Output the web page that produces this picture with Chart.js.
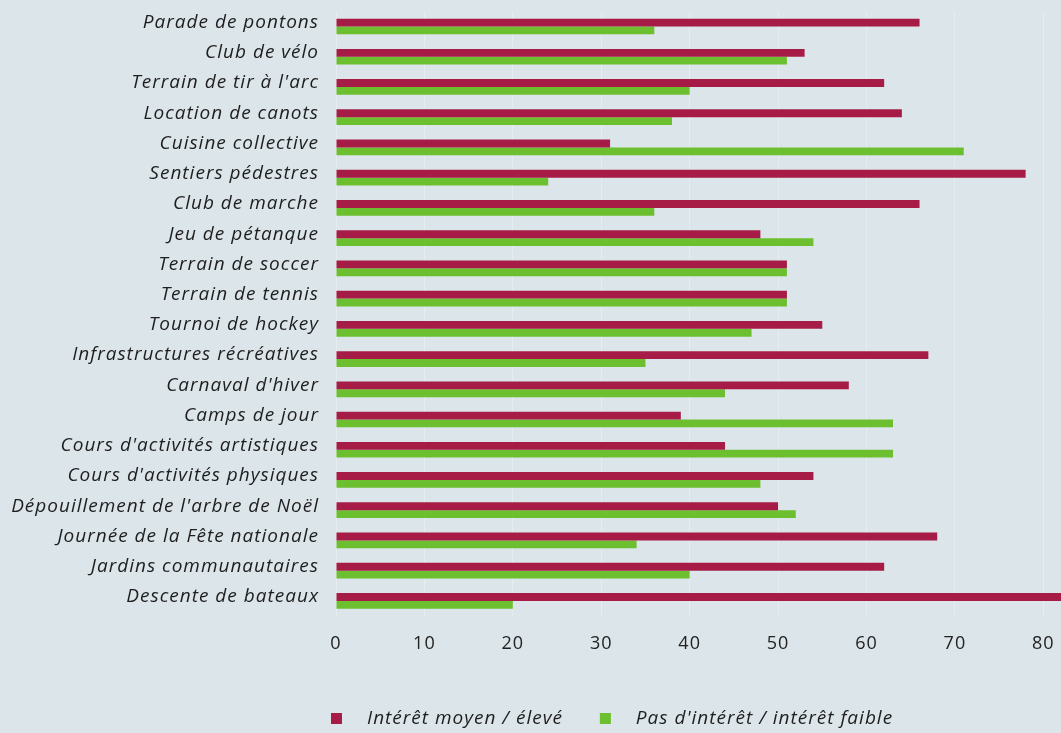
<!DOCTYPE html>
<html>
<head>
<meta charset="utf-8">
<script src="https://cdn.jsdelivr.net/npm/chart.js@4/dist/chart.umd.min.js"></script>
<style>
html,body{margin:0;padding:0;background:#dce5e9;}
#wrap{width:1061px;height:733px;position:relative;}
</style>
</head>
<body>
<div id="wrap"><canvas id="c" width="1061" height="733"></canvas></div>
<script>
const categories = [
  "Parade de pontons",
  "Club de vélo",
  "Terrain de tir à l'arc",
  "Location de canots",
  "Cuisine collective",
  "Sentiers pédestres",
  "Club de marche",
  "Jeu de pétanque",
  "Terrain de soccer",
  "Terrain de tennis",
  "Tournoi de hockey",
  "Infrastructures récréatives",
  "Carnaval d'hiver",
  "Camps de jour",
  "Cours d'activités artistiques",
  "Cours d'activités physiques",
  "Dépouillement de l'arbre de Noël",
  "Journée de la Fête nationale",
  "Jardins communautaires",
  "Descente de bateaux"
];
const interetMoyenEleve = [66, 53, 62, 64, 31, 78, 66, 48, 51, 51, 55, 67, 58, 39, 44, 54, 50, 68, 62, 82];
const pasInteretFaible  = [36, 51, 40, 38, 71, 24, 36, 54, 51, 51, 47, 35, 44, 63, 63, 48, 52, 34, 40, 20];
const seriesLabels = ["Intérêt moyen / élevé", "Pas d'intérêt / intérêt faible"];
const xTicks = [0, 10, 20, 30, 40, 50, 60, 70, 80];

const RED = '#a61c46';
const GREEN = '#6cbf2e';
const FONT = "'Open Sans', 'DejaVu Sans', sans-serif";
const SPACING = '1px';

const spacingPlugin = {
  id: 'spacing',
  beforeInit(chart) { chart.ctx.letterSpacing = SPACING; },
  beforeLayout(chart) { chart.ctx.letterSpacing = SPACING; },
  beforeDraw(chart) { chart.ctx.letterSpacing = SPACING; }
};

const bgPlugin = {
  id: 'bg',
  beforeDraw(chart) {
    const ctx = chart.ctx;
    ctx.save();
    ctx.fillStyle = '#dce5e9';
    ctx.fillRect(0, 0, chart.width, chart.height);
    ctx.restore();
  }
};

const legendPlugin = {
  id: 'customLegend',
  afterDraw(chart) {
    const ctx = chart.ctx;
    const area = chart.chartArea;
    ctx.save();
    ctx.letterSpacing = SPACING;
    ctx.font = "italic 19px " + FONT;
    ctx.textBaseline = 'middle';
    const y = 719;
    let x = area.left - 5;
    chart.data.datasets.forEach((ds, i) => {
      ctx.fillStyle = ds.backgroundColor;
      ctx.fillRect(x, y - 6, 11, 11);
      ctx.fillStyle = '#1e1e1e';
      ctx.fillText(ds.label, x + 36, y);
      x += 36 + ctx.measureText(ds.label).width + 37;
    });
    ctx.restore();
  }
};

new Chart(document.getElementById('c'), {
  type: 'bar',
  data: {
    labels: categories,
    datasets: [
      { label: seriesLabels[0], data: interetMoyenEleve, backgroundColor: RED },
      { label: seriesLabels[1], data: pasInteretFaible, backgroundColor: GREEN }
    ]
  },
  options: {
    indexAxis: 'y',
    responsive: false,
    animation: false,
    layout: { padding: { top: 6, left: 0, right: 0, bottom: 0 } },
    datasets: { bar: { barPercentage: 1.0, categoryPercentage: 0.52 } },
    plugins: {
      legend: { display: false },
      tooltip: { enabled: false }
    },
    scales: {
      x: {
        min: 0,
        max: 82,
        afterBuildTicks(scale) {
          scale.ticks = xTicks.map(v => ({ value: v }));
        },
        afterFit(scale) { scale.height = 117; },
        grid: { color: 'rgba(255,255,255,0.3)', drawTicks: true, tickLength: 17, tickColor: 'rgba(0,0,0,0)' },
        border: { display: false },
        ticks: {
          padding: 0,
          color: '#222',
          font: { family: FONT, size: 18 }
        }
      },
      y: {
        afterFit(scale) { scale.width = 336; },
        grid: { display: false, drawTicks: true, tickLength: 17, tickColor: 'rgba(0,0,0,0)' },
        border: { display: false },
        ticks: {
          padding: 0,
          labelOffset: -4,
          color: '#1e1e1e',
          font: { family: FONT, size: 19, style: 'italic' }
        }
      }
    }
  },
  plugins: [spacingPlugin, bgPlugin, legendPlugin]
});
</script>
</body>
</html>
